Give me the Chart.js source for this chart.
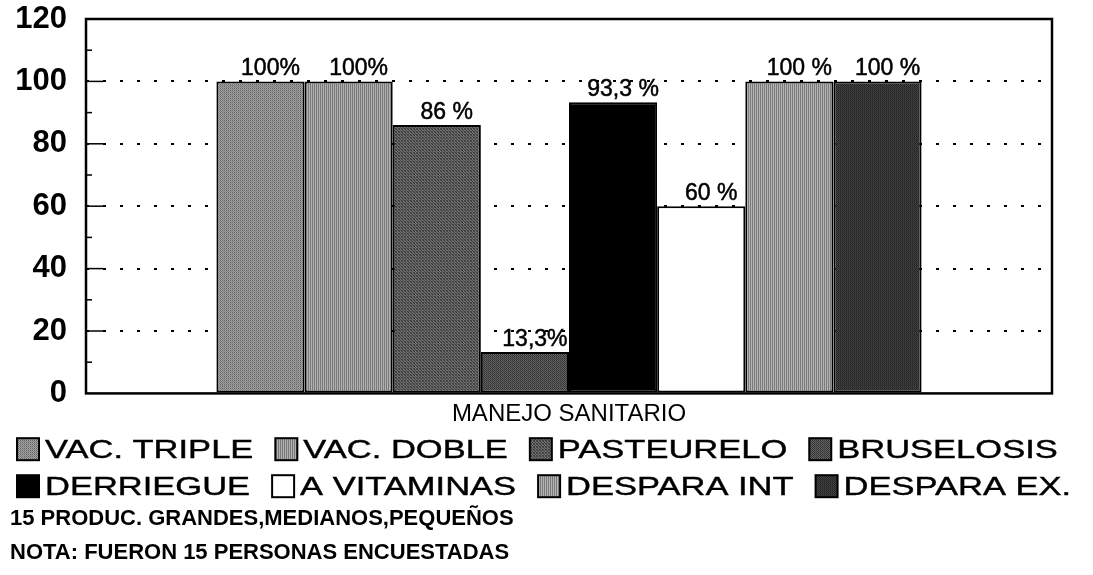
<!DOCTYPE html>
<html lang="es">
<head>
<meta charset="UTF-8">
<title>Manejo sanitario</title>
<script src="https://cdn.jsdelivr.net/npm/chart.js"></script>
<style>
  body { margin: 0; padding: 0; background: #fff; }
  #wrap { width: 1093px; height: 575px; position: relative; }
</style>
</head>
<body>
<div id="wrap"><canvas id="chart"></canvas></div>
<script>
// --- data ---
const categories = ['MANEJO SANITARIO'];
const seriesNames = ['VAC. TRIPLE', 'VAC. DOBLE', 'PASTEURELO', 'BRUSELOSIS',
                     'DERRIEGUE', 'A VITAMINAS', 'DESPARA INT', 'DESPARA EX.'];
const seriesValues = [100, 100, 86, 13.3, 93.3, 60, 100, 100];
const valueLabels = ['100%', '100%', '86 %', '13,3%', '93,3 %', '60 %', '100 %', '100 %'];
const yTicks = [0, 20, 40, 60, 80, 100, 120];
const legendRows = [[0, 1, 2, 3], [4, 5, 6, 7]];
const footnote1 = '15 PRODUC. GRANDES,MEDIANOS,PEQUEÑOS';
const footnote2 = 'NOTA: FUERON 15 PERSONAS ENCUESTADAS';

const FONT = 'Arial, "Liberation Sans", Helvetica, sans-serif';

// small pixel tiles to imitate the halftone fills of the scan
function tile(rows) {
  const c = document.createElement('canvas');
  c.width = rows[0].length;
  c.height = rows.length;
  const g = c.getContext('2d');
  rows.forEach((row, y) => row.forEach((col, x) => {
    g.fillStyle = col;
    g.fillRect(x, y, 1, 1);
  }));
  return g.createPattern(c, 'repeat');
}

const fills = [
  tile([['#666', '#a4a4a4'], ['#9a9a9a', '#828282']]),
  tile([['#7a7a7a', '#b0b0b0']]),
  tile([['#3a3a3a', '#707070', '#555'], ['#666', '#444', '#777'], ['#505050', '#6a6a6a', '#383838']]),
  tile([['#333', '#666'], ['#5a5a5a', '#3c3c3c']]),
  '#000',
  '#fff',
  tile([['#7c7c7c', '#b4b4b4']]),
  tile([['#222', '#484848'], ['#3a3a3a', '#2a2a2a']])
];

const datasets = seriesNames.map((name, i) => ({
  label: name,
  data: [seriesValues[i]],
  backgroundColor: fills[i],
  borderColor: '#000',
  borderWidth: 2,
  borderSkipped: false
}));

// value labels above bars
const valueLabelPlugin = {
  id: 'valueLabels',
  afterDatasetsDraw(chart) {
    const ctx = chart.ctx;
    ctx.save();
    ctx.font = '23px ' + FONT;
    ctx.fillStyle = '#000';
    ctx.strokeStyle = '#000';
    ctx.lineWidth = 0.5;
    ctx.textAlign = 'center';
    ctx.textBaseline = 'alphabetic';
    chart.data.datasets.forEach((ds, i) => {
      const bar = chart.getDatasetMeta(i).data[0];
      ctx.fillText(valueLabels[i], bar.x + 10, bar.y - 6);
      ctx.strokeText(valueLabels[i], bar.x + 10, bar.y - 6);
    });
    ctx.restore();
  }
};

// frame round the plot and the inward tick marks on the value axis
const framePlugin = {
  id: 'frame',
  afterDatasetsDraw(chart) {
    const {ctx, chartArea: a, scales: {y}} = chart;
    ctx.save();
    ctx.strokeStyle = '#000';
    ctx.lineWidth = 1.5;
    for (let v = 10; v < 120; v += 10) {
      const py = y.getPixelForValue(v);
      const len = v % 20 === 0 ? 17 : 6;
      ctx.beginPath();
      ctx.moveTo(a.left, py);
      ctx.lineTo(a.left + len, py);
      ctx.stroke();
    }
    ctx.lineWidth = 2.5;
    ctx.strokeRect(a.left, a.top, a.right - a.left, a.bottom - a.top);
    ctx.restore();
  }
};

// legend in two rows, drawn with the wide lettering of the original
const legendPlugin = {
  id: 'wideLegend',
  afterDraw(chart) {
    const ctx = chart.ctx;
    const base = chart.scales.x.bottom;
    const sx = 1.38, box = 22, gapIn = 6, gapOut = 22;
    ctx.save();
    ctx.font = '25px ' + FONT;
    ctx.textBaseline = 'alphabetic';
    legendRows.forEach((row, r) => {
      const cy = base + 13 + r * 37;
      let x = 17;
      row.forEach(i => {
        const ds = chart.data.datasets[i];
        ctx.fillStyle = ds.backgroundColor;
        ctx.fillRect(x, cy - box / 2, box, box);
        ctx.strokeStyle = '#000';
        ctx.lineWidth = 2;
        ctx.strokeRect(x, cy - box / 2, box, box);
        x += box + gapIn;
        ctx.save();
        ctx.translate(x, cy + 9);
        ctx.scale(sx, 1);
        ctx.fillStyle = '#000';
        ctx.strokeStyle = '#000';
        ctx.lineWidth = 0.4;
        ctx.fillText(ds.label, 0, 0);
        ctx.strokeText(ds.label, 0, 0);
        ctx.restore();
        x += ctx.measureText(ds.label).width * sx + gapOut;
      });
    });
    ctx.restore();
  }
};

new Chart(document.getElementById('chart'), {
  type: 'bar',
  data: { labels: categories, datasets: datasets },
  plugins: [valueLabelPlugin, framePlugin, legendPlugin],
  options: {
    responsive: true,
    maintainAspectRatio: false,
    animation: false,
    layout: { padding: { top: 19, left: 10, right: 41, bottom: 5 } },
    datasets: { bar: { categoryPercentage: 0.73, barPercentage: 1.0 } },
    plugins: {
      legend: { display: false },
      tooltip: { enabled: false },
      subtitle: {
        display: true, text: footnote1, position: 'bottom', align: 'start',
        color: '#000', font: { family: FONT, size: 22, weight: 'bold' },
        padding: { top: 70, bottom: 3 }
      },
      title: {
        display: true, text: footnote2, position: 'bottom', align: 'start',
        color: '#000', font: { family: FONT, size: 22, weight: 'bold' },
        padding: { top: 4, bottom: 4 }
      }
    },
    scales: {
      x: {
        grid: { display: false, drawTicks: false },
        border: { display: false },
        ticks: { color: '#000', padding: 7, font: { family: FONT, size: 24 } }
      },
      y: {
        min: 0, max: 120,
        afterFit(scale) { scale.width = 76; scale.paddingTop = 0; scale.paddingBottom = 0; },
        afterBuildTicks(scale) { scale.ticks = yTicks.map(v => ({ value: v })); },
        grid: {
          drawTicks: false,
          lineWidth: 2,
          color: c => (c.tick && c.tick.value > 0 && c.tick.value < 120) ? '#000' : 'transparent'
        },
        border: { display: false, dash: [3, 14] },
        ticks: { color: '#000', padding: 19, font: { family: FONT, size: 31, weight: 'bold' } }
      }
    }
  }
});
</script>
</body>
</html>
